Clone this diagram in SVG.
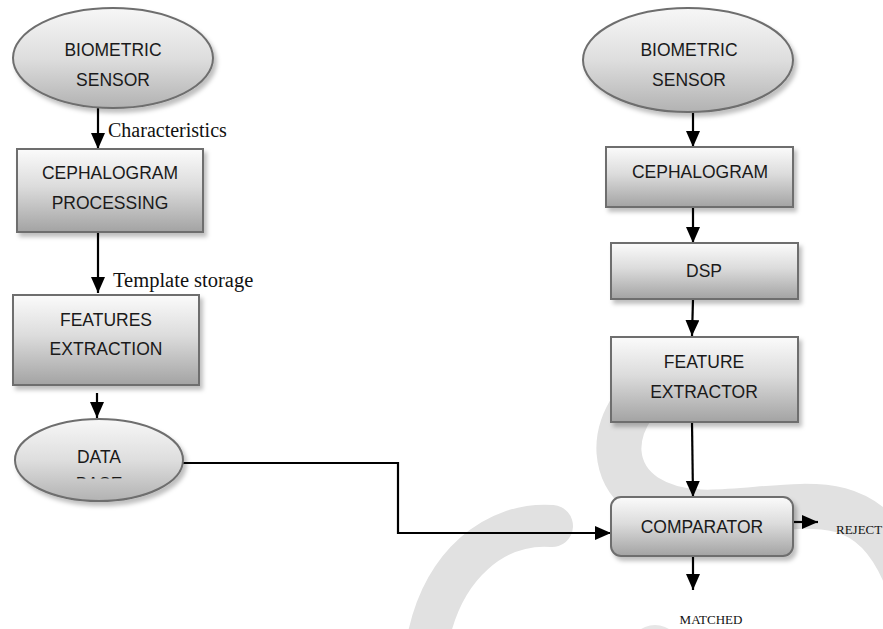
<svg xmlns="http://www.w3.org/2000/svg" width="883" height="629" viewBox="0 0 883 629">
<style>
.node{stroke:#6e6e6e;stroke-width:2;filter:url(#sh)}
.box{fill:url(#gb)}
.ell{fill:url(#ge)}
.lbl{font-family:"Liberation Sans",Arial,sans-serif;font-size:17.5px;fill:#1a1a1a;text-anchor:middle}
.ser{font-family:"Liberation Serif","Times New Roman",serif;fill:#111}
.wm{fill:none;stroke:#e1e1e1}
.con{fill:none;stroke:#000;stroke-width:2.2;marker-end:url(#ah)}
</style>
<defs>
<linearGradient id="gb" x1="0" y1="0" x2="0" y2="1">
<stop offset="0" stop-color="#fbfbfb"/><stop offset="0.45" stop-color="#dcdcdc"/><stop offset="1" stop-color="#a3a3a3"/>
</linearGradient>
<linearGradient id="ge" x1="0" y1="0" x2="0" y2="1">
<stop offset="0" stop-color="#f7f7f7"/><stop offset="0.5" stop-color="#dedede"/><stop offset="1" stop-color="#b2b2b2"/>
</linearGradient>
<filter id="sh" x="-10%" y="-10%" width="130%" height="140%">
<feDropShadow dx="3" dy="4" stdDeviation="2" flood-color="#000" flood-opacity="0.25"/>
</filter>
<marker id="ah" markerUnits="userSpaceOnUse" markerWidth="17" markerHeight="15" refX="16" refY="7" orient="auto">
<path d="M0,0 L16,7 L0,14 z" fill="#000"/>
</marker>
<clipPath id="dbclip"><rect x="0" y="400" width="300" height="78.5"/></clipPath>
</defs>

<g id="watermark">
<path class="wm" stroke-width="45" d="M 670 372 C 642 388, 617 420, 619 452 C 622 492, 660 510, 700 512 C 745 514, 800 500, 840 510 C 870 518, 890 540, 905 575"/>
<path class="wm" stroke-width="42" stroke-linecap="round" d="M 552 526 C 498 522, 440 562, 426 650"/>
<circle cx="655" cy="651" r="26" fill="#e6e6e6"/>
</g>

<g id="connectors">
<path class="con" d="M 98 108 V 149"/>
<path class="con" d="M 98 232 V 293"/>
<path class="con" d="M 97 393 V 418"/>
<path class="con" d="M 183 463 H 398 V 533 H 611"/>
<path class="con" d="M 693 113 V 147"/>
<path class="con" d="M 693 207 V 243"/>
<path class="con" d="M 693 299 L 692 336"/>
<path class="con" d="M 692 422 L 693 497"/>
<path class="con" d="M 793 522 H 818"/>
<path class="con" d="M 693 556 V 590"/>
<text class="ser" x="108" y="137" font-size="20">Characteristics</text>
<text class="ser" x="113" y="287" font-size="20.5">Template storage</text>
<text class="ser" x="836" y="534" font-size="13">REJECT</text>
<text class="ser" x="711" y="624" font-size="13" text-anchor="middle">MATCHED</text>
</g>

<g id="sensor-left">
<ellipse class="node ell" cx="113" cy="58" rx="100" ry="50"/>
<text class="lbl" x="113" y="56">BIOMETRIC</text>
<text class="lbl" x="113" y="86">SENSOR</text>
</g>
<g id="cephalogram-processing">
<rect class="node box" x="17" y="149" width="186" height="83"/>
<text class="lbl" x="110" y="179">CEPHALOGRAM</text>
<text class="lbl" x="110" y="209">PROCESSING</text>
</g>
<g id="features-extraction">
<rect class="node box" x="13" y="295" width="186" height="90"/>
<text class="lbl" x="106" y="326">FEATURES</text>
<text class="lbl" x="106" y="355">EXTRACTION</text>
</g>
<g id="database">
<ellipse class="node ell" cx="99" cy="460" rx="84" ry="41"/>
<text class="lbl" x="99" y="463">DATA</text>
<text class="lbl" x="99" y="489.5" clip-path="url(#dbclip)">BASE</text>
</g>

<g id="sensor-right">
<ellipse class="node ell" cx="688" cy="60" rx="105" ry="52"/>
<text class="lbl" x="689" y="56">BIOMETRIC</text>
<text class="lbl" x="689" y="86">SENSOR</text>
</g>
<g id="cephalogram">
<rect class="node box" x="606" y="147" width="187" height="60"/>
<text class="lbl" x="700" y="178">CEPHALOGRAM</text>
</g>
<g id="dsp">
<rect class="node box" x="611" y="243" width="187" height="56"/>
<text class="lbl" x="704" y="277">DSP</text>
</g>
<g id="feature-extractor">
<rect class="node box" x="611" y="337" width="187" height="85"/>
<text class="lbl" x="704" y="368">FEATURE</text>
<text class="lbl" x="704" y="398">EXTRACTOR</text>
</g>
<g id="comparator">
<rect class="node box" x="611" y="497" width="182" height="59" rx="10"/>
<text class="lbl" x="702" y="533" font-size="18">COMPARATOR</text>
</g>
</svg>
